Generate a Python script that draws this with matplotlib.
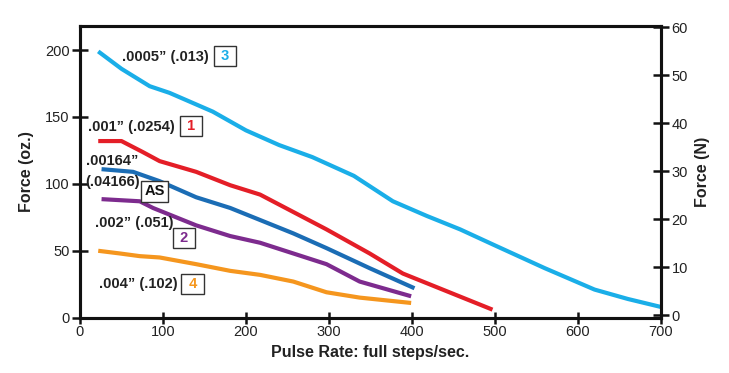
import matplotlib
matplotlib.use("Agg")
import matplotlib.pyplot as plt

plt.rcParams['font.family'] = ['Liberation Sans', 'DejaVu Sans']

#------#
# Data #
#------#

# .0005" (.013)  -> 3
x3 = [22, 50, 84, 108, 160, 200, 240, 280, 330, 377, 418, 458, 500, 560, 620, 660, 700]
y3 = [199, 186, 173, 168, 154, 140, 129, 120, 106, 87, 76, 66, 54, 37, 21, 14, 8]

# .001" (.0254)  -> 1
x1 = [22, 50, 75, 96, 140, 181, 217, 257, 297, 349, 389, 437, 497]
y1 = [132, 132, 124, 117, 109, 99, 92, 79, 66, 48, 33, 21, 6]

# .00164" (.04166) -> AS
xas = [26, 64, 96, 140, 181, 217, 257, 297, 349, 403]
yas = [111, 109, 102, 90, 82, 73, 63, 52, 37, 22]

# .002" (.051)  -> 2
x2 = [26, 72, 88, 108, 140, 181, 217, 257, 297, 337, 399]
y2 = [88.6, 87, 82, 77, 69, 61, 56, 48, 40, 27, 16]

# .004" (.102)  -> 4
x4 = [22, 48, 72, 96, 140, 181, 217, 257, 297, 337, 399]
y4 = [50, 48, 46, 45, 40, 35, 32, 27, 19, 15, 11]

xticks = [0, 100, 200, 300, 400, 500, 600, 700]
yticks_oz = [0, 50, 100, 150, 200]
yticks_n = [0, 10, 20, 30, 40, 50, 60]

c3 = '#1aaee8'
c1 = '#e41e27'
cas = '#1b6db5'
c2 = '#7d2b8e'
c4 = '#f5961e'

#-------#
# Plot  #
#-------#

fig = plt.figure(figsize=(7.29, 3.73), dpi=100)
ax = fig.add_axes([0.1097, 0.1483, 0.797, 0.782])

lw = 3.0
for xs, ys, c in [(x3, y3, c3), (x1, y1, c1), (xas, yas, cas), (x2, y2, c2), (x4, y4, c4)]:
    ax.plot(xs, ys, color=c, lw=lw, solid_capstyle='butt', solid_joinstyle='round')

ax.set_xlim(0, 700)
ax.set_ylim(0, 218)
ax.set_xticks(xticks)
ax.set_yticks(yticks_oz)

for s in ax.spines.values():
    s.set_linewidth(2.2)
    s.set_color('#111111')

ax.tick_params(direction='inout', length=9, width=1.8, labelsize=10.5,
               color='#111111', labelcolor='#222222')
ax.tick_params(axis='y', length=11, pad=2)
ax.tick_params(axis='x', pad=1)

ax.set_xlabel('Pulse Rate: full steps/sec.', fontsize=11.5, fontweight='bold',
              labelpad=4, color='#222222')
ax.set_ylabel('Force (oz.)', fontsize=11.5, fontweight='bold', labelpad=8,
              color='#222222')

ax2 = ax.twinx()
ax2.set_ylim(-0.56, 60.3)
ax2.set_yticks(yticks_n)
ax2.tick_params(direction='inout', length=11, width=1.8, labelsize=10.5, pad=2,
                color='#111111', labelcolor='#222222')
for s in ax2.spines.values():
    s.set_linewidth(2.2)
    s.set_color('#111111')
ax2.set_ylabel('Force (N)', fontsize=11.5, fontweight='bold', labelpad=5,
               color='#222222')

# labels
tk = dict(fontsize=10.5, fontweight='bold', color='#222222', va='center', ha='left')
bx = dict(boxstyle='square,pad=0.22', fc='white', ec='#333333', lw=1.0)

ax.text(50.6, 195, '.0005\u201d (.013)', **tk)
ax.text(174.7, 195.4, ' 3 ', fontsize=10.5, fontweight='bold', color=c3,
        ha='center', va='center', bbox=bx)

ax.text(9.6, 142.6, '.001\u201d (.0254)', **tk)
ax.text(133.7, 143.4, ' 1 ', fontsize=10.5, fontweight='bold', color=c1,
        ha='center', va='center', bbox=bx)

ax.text(7.2, 117.2, '.00164\u201d', **tk)
ax.text(6, 101.5, '(.04166)', **tk)
ax.text(89.8, 94.4, 'AS', fontsize=10.5, fontweight='bold', color='#111111',
        ha='center', va='center', bbox=bx)

ax.text(18, 70.8, '.002\u201d (.051)', **tk)
ax.text(125.3, 59.6, ' 2 ', fontsize=10.5, fontweight='bold', color=c2,
        ha='center', va='center', bbox=bx)

ax.text(22.9, 25.2, '.004\u201d (.102)', **tk)
ax.text(136, 25.2, ' 4 ', fontsize=10.5, fontweight='bold', color=c4,
        ha='center', va='center', bbox=bx)

fig.savefig('out.png', dpi=100)
